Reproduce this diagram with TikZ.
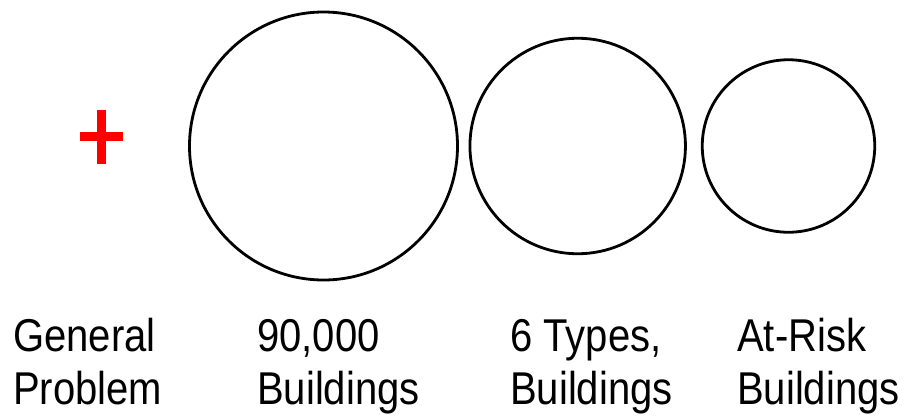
\documentclass[tikz,border=0pt]{standalone}
\usepackage{fontspec}
\newfontfamily\labelfont[FakeStretch=0.87]{Liberation Sans}
\usetikzlibrary{positioning}
\definecolor{ringblack}{HTML}{000000}
\definecolor{plusred}{HTML}{FF0000}

\begin{document}
\begin{tikzpicture}[
    x=1pt, y=-1pt,
    % ── Node styles ──────────────────────────────────────────────────────
    ring/.style={
        draw=ringblack, circle, line width=2.8pt, inner sep=0pt
    },
    caption/.style={
        font=\fontsize{46}{53}\selectfont\labelfont,
        text=black, align=left, inner sep=0pt, anchor=base west
    },
    plusbar/.style={
        draw=plusred, line width=8.5pt
    }
]
\useasboundingbox (0,0) rectangle (905,418);

% ═══════════════════════════════════════════════════════════════════════════
% 1. Red plus sign
% ═══════════════════════════════════════════════════════════════════════════
\coordinate (plus) at (101.5,136.5);
\draw[plusbar] ([xshift=-21.5pt]plus) -- ([xshift=21.5pt]plus);
\draw[plusbar] ([yshift=27pt]plus) -- ([yshift=-27pt]plus);

% ═══════════════════════════════════════════════════════════════════════════
% 2. Three circles, shrinking to the right
% ═══════════════════════════════════════════════════════════════════════════
\node[ring, minimum size=268pt] (allbldg) at (323.5,146) {};
\node[ring, minimum size=215.5pt] (typebldg) at (577.7,146) {};
\node[ring, minimum size=172.5pt] (riskbldg) at (788.5,146) {};

% ═══════════════════════════════════════════════════════════════════════════
% 3. Captions (base anchor sits on the second line)
% ═══════════════════════════════════════════════════════════════════════════
\node[caption] (general) at (13,404) {General\\Problem};
\node[caption] (allcap) at (257,404) {90,000\\Buildings};
\node[caption] (typecap) at (510,404) {6 Types,\\Buildings};
\node[caption] (riskcap) at (737,404) {At-Risk\\Buildings};

\end{tikzpicture}
\end{document}
